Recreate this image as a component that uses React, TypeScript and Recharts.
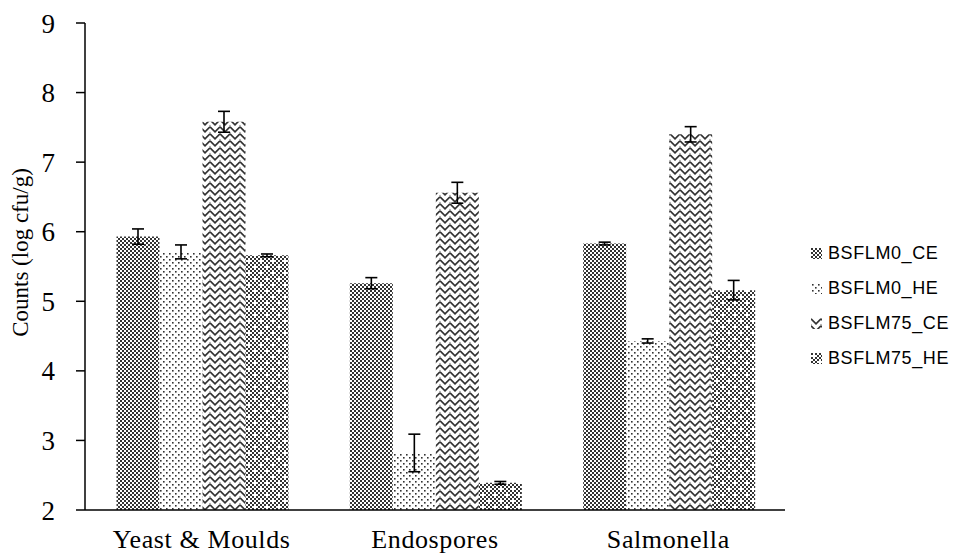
import React from 'react';
import { BarChart, Bar, XAxis, YAxis, ErrorBar, Legend, Label } from 'recharts';

const categories = ['Yeast & Moulds', 'Endospores', 'Salmonella'];
const seriesNames = ['BSFLM0_CE', 'BSFLM0_HE', 'BSFLM75_CE', 'BSFLM75_HE'];
const bsflm0CE = [5.93, 5.26, 5.83];
const bsflm0CEErr = [0.11, 0.08, 0.02];
const bsflm0HE = [5.71, 2.82, 4.43];
const bsflm0HEErr = [0.1, 0.27, 0.03];
const bsflm75CE = [7.58, 6.56, 7.4];
const bsflm75CEErr = [0.15, 0.15, 0.11];
const bsflm75HE = [5.66, 2.39, 5.16];
const bsflm75HEErr = [0.02, 0.02, 0.14];
const yTicks = [2, 3, 4, 5, 6, 7, 8, 9];

const data = categories.map((c, i) => ({
  name: c,
  s0: bsflm0CE[i],
  e0: bsflm0CEErr[i],
  s1: bsflm0HE[i],
  e1: bsflm0HEErr[i],
  s2: bsflm75CE[i],
  e2: bsflm75CEErr[i],
  s3: bsflm75HE[i],
  e3: bsflm75HEErr[i],
}));

const DARK = '#333';
const serif = '"Liberation Serif", "Times New Roman", serif';

const checkerCells = (size: number) => {
  const cells: React.ReactElement[] = [];
  for (let y = 0; y < size; y += 2) {
    for (let x = 0; x < size; x += 2) {
      if (((x / 2) + (y / 2)) % 2 === 0) {
        cells.push(<rect key={`${x}-${y}`} x={x} y={y} width={2} height={2} fill={DARK} />);
      }
    }
  }
  return cells;
};

const Patterns = () => (
  <defs>
    <pattern id="pat0" patternUnits="userSpaceOnUse" width={4} height={4}>
      <rect width={4} height={4} fill="#fff" />
      <rect x={0} y={0} width={2} height={2} fill={DARK} />
      <rect x={2} y={2} width={2} height={2} fill={DARK} />
    </pattern>
    <pattern id="pat1" patternUnits="userSpaceOnUse" width={6} height={6}>
      <rect width={6} height={6} fill="#fff" />
      <rect x={1} y={1} width={1.6} height={1.6} fill={DARK} />
      <rect x={4} y={4} width={1.6} height={1.6} fill={DARK} />
    </pattern>
    <pattern id="pat2" patternUnits="userSpaceOnUse" width={10} height={7}>
      <rect width={10} height={7} fill="#fff" />
      <path d="M0,0.8 L5,5.8 L10,0.8" fill="none" stroke={DARK} strokeWidth={1.7} />
      <path d="M-1,6 L0,7 M10,7 L11,6" fill="none" stroke={DARK} strokeWidth={1.7} />
    </pattern>
    <pattern id="pat3" patternUnits="userSpaceOnUse" width={12} height={12}>
      <rect width={12} height={12} fill="#fff" />
      {checkerCells(12)}
      <rect x={2} y={2} width={2} height={2} fill="#fff" />
      <rect x={8} y={8} width={2} height={2} fill="#fff" />
    </pattern>
  </defs>
);

const renderLegend = () => (
  <div style={{ fontFamily: '"Liberation Sans", Arial, sans-serif', fontSize: 18, color: '#000' }}>
    {seriesNames.map((n, i) => (
      <div key={n} style={{ display: 'flex', alignItems: 'center', height: 35 }}>
        <svg width={11} height={11} style={{ marginRight: 6 }}>
          <rect width={11} height={11} fill={`url(#pat${i})`} />
        </svg>
        <span style={{ letterSpacing: 0.6 }}>{n}</span>
      </div>
    ))}
  </div>
);

const renderYTitle = (props: any) => {
  const vb = props.viewBox || { x: 0, y: 23, width: 85, height: 487 };
  const cy = vb.y + vb.height / 2 - 14;
  const cx = 20;
  return (
    <text
      x={cx}
      y={cy}
      transform={`rotate(-90, ${cx}, ${cy})`}
      textAnchor="middle"
      dominantBaseline="central"
      fontFamily={serif}
      fontSize={23}
      fill="#000"
    >
      Counts (log cfu/g)
    </text>
  );
};

const seriesKeys = ['s0', 's1', 's2', 's3'];
const errKeys = ['e0', 'e1', 'e2', 'e3'];

export default function App() {
  return (
    <div style={{ position: 'absolute', left: 0, top: 0, width: 965, height: 553, background: '#fff' }}>
      <BarChart
        width={965}
        height={553}
        data={data}
        margin={{ top: 23, right: 180, bottom: 0, left: 0 }}
        barGap={0}
        barCategoryGap="13.5%"
      >
        <Patterns />
        <XAxis
          dataKey="name"
          height={43}
          tickLine={false}
          tickSize={0}
          tickMargin={20}
          axisLine={{ stroke: '#000', strokeWidth: 1.5 }}
          tick={{ fontFamily: serif, fontSize: 26, fill: '#000', letterSpacing: 0.6 }}
          interval={0}
        />
        <YAxis
          type="number"
          domain={[2, 9]}
          ticks={yTicks}
          width={85}
          tickSize={9}
          tickMargin={21}
          axisLine={{ stroke: '#000', strokeWidth: 1.5 }}
          tickLine={{ stroke: '#000', strokeWidth: 1.5 }}
          tick={{ fontFamily: serif, fontSize: 27, fill: '#000' }}
          allowDataOverflow
        >
          <Label content={renderYTitle} />
        </YAxis>
        <Legend
          layout="vertical"
          align="center"
          verticalAlign="middle"
          content={renderLegend}
          wrapperStyle={{ left: 811, top: 236, width: 154 }}
        />
        {seriesKeys.map((k, i) => (
          <Bar key={k} dataKey={k} name={seriesNames[i]} fill={`url(#pat${i})`} isAnimationActive={false}>
            <ErrorBar dataKey={errKeys[i]} width={6} stroke="#000" strokeWidth={1.6} direction="y" />
          </Bar>
        ))}
      </BarChart>
    </div>
  );
}
